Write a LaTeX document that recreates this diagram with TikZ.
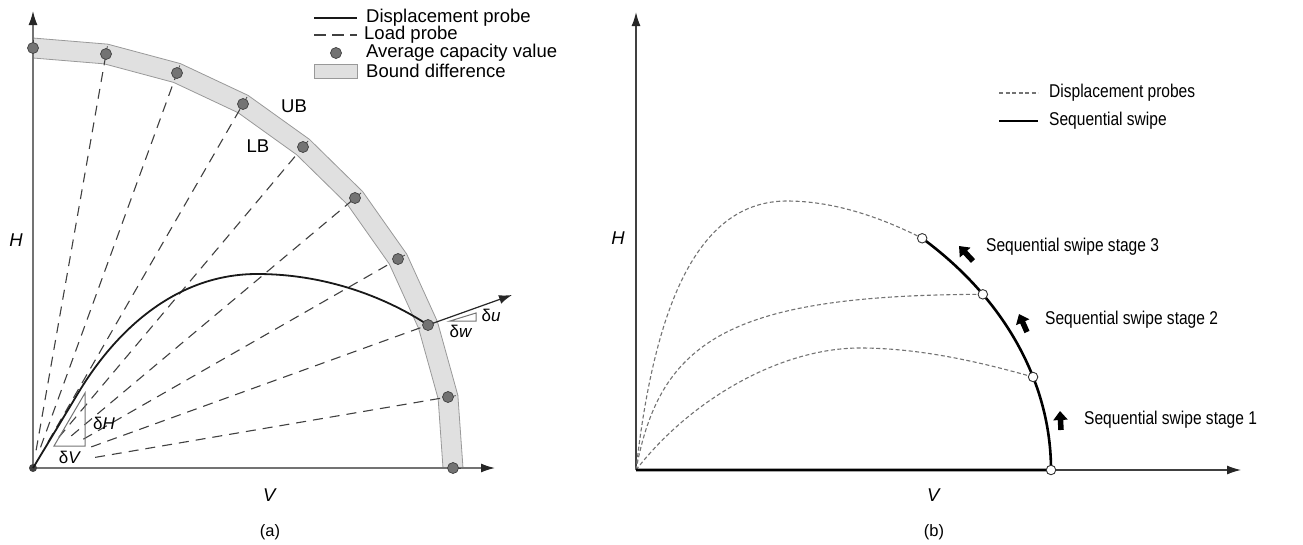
\documentclass[tikz,border=0pt]{standalone}
\usepackage{fontspec}
\setmainfont{Liberation Sans}
\newfontfamily\narrowfont[FakeStretch=0.84]{Liberation Sans}
\usepackage{xcolor}
\usepackage{tikz}
\usetikzlibrary{positioning,arrows.meta,calc}

\begin{document}
\begin{tikzpicture}[
    x=1pt, y=-1pt,
    lbl/.style={font=\fontsize{18.5}{20}\selectfont, inner sep=0pt},
    nlbl/.style={font=\narrowfont\fontsize{18.5}{20}\selectfont, inner sep=0pt},
    dlbl/.style={font=\fontsize{17}{18}\selectfont, inner sep=0pt},
    captxt/.style={font=\fontsize{16.5}{18}\selectfont, inner sep=0pt},
    axis/.style={draw=black!55, line width=1.4pt, -{Latex[length=14pt,width=9pt,color=black!85]}},
    axisb/.style={draw=black!75, line width=1.5pt, -{Latex[length=14pt,width=9pt,color=black!85]}},
    band/.style={fill=black!12, draw=black!40, line width=0.8pt},
    probe/.style={draw=black!75, line width=1.1pt, dash pattern=on 10pt off 7pt},
    disp/.style={draw=black!90, line width=1.8pt},
    capdot/.style={circle, fill=black!55, draw=black!75, line width=0.7pt, minimum size=11pt, inner sep=0pt},
    tri/.style={draw=black!55, line width=1pt},
    darrow/.style={draw=black!85, line width=1.2pt, -{Latex[length=13pt,width=9pt]}},
    dprobe/.style={draw=black!55, line width=1.1pt, dash pattern=on 4pt off 2.5pt},
    swipe/.style={draw=black, line width=2.6pt},
    hollow/.style={circle, draw=black!80, fill=white, line width=0.9pt, minimum size=9.5pt, inner sep=0pt},
    stage/.style={draw=black, line width=5.5pt, -{Triangle[length=9pt,width=14pt]}}
]
\useasboundingbox (0,0) rectangle (1303,544);

\coordinate (Oa) at (33,468);
\coordinate (Ya) at (33,11);
\coordinate (Xa) at (495,468);
\foreach \n/\px/\py in {0/33/48, 1/106/54, 2/177/73, 3/243/104, 4/303/147, 5/355/198, 6/398/259, 7/428/325, 8/448/397, 9/453/468}
    \coordinate (p\n) at (\px,\py);
\foreach \n in {0,...,9}{
    \coordinate (u\n) at ($(p\n)!-10pt!(Oa)$);
    \coordinate (l\n) at ($(p\n)!10pt!(Oa)$);
}
\filldraw[band] (u0) \foreach \n in {1,...,9}{ -- (u\n)} \foreach \n in {9,...,0}{ -- (l\n)} -- cycle;

\draw[axis] (Oa) -- (Ya);
\draw[axis] (Oa) -- (Xa);
\fill[black!75] (Oa) circle (4pt);

\foreach \n/\g in {1/18,2/22,3/30,4/40,5/50,6/58,7/62,8/63}
    \draw[probe, shorten <=\g pt] (Oa) -- (p\n);

\coordinate (k1) at (80,390);
\coordinate (k2) at (257,274);
\draw[disp] (Oa) -- (k1) .. controls (120,325) and (180,274) .. (k2) .. controls (330,274) and (390,300) .. (p7);

\draw[tri] (54,446) -- (85,446) -- (85,393) -- cycle;
\node[dlbl] (dH) at (104,423) {δ\textit{H}};
\node[dlbl] (dV) at (70,457) {δ\textit{V}};

\coordinate (du) at (512,295);
\draw[darrow] (p7) -- (du);
\draw[tri] (450,321) -- (476,321) -- (476,313) -- cycle;
\node[dlbl] (dU) at (491,315) {δ\textit{u}};
\node[dlbl] (dW) at (461,331) {δ\textit{w}};

\foreach \n in {0,...,9}{
    \draw[black!75, line width=0.7pt] (p\n) -- ($(p\n)!0.8!(u\n)$);
    \node[capdot] (c\n) at (p\n) {};
}

\node[lbl] (ub) at (294,106) {UB};
\node[lbl] (lb) at (258,146) {LB};
\node[lbl] (Ha) at (16,240) {\textit{H}};
\node[lbl] (Va) at (270,495) {\textit{V}};
\node[captxt] (capa) at (270,532) {(a)};

\coordinate (la1) at (314,18);
\coordinate (la2) at (357,18);
\draw[disp] (la1) -- (la2);
\node[lbl, right=9pt of la2] (ta1) {Displacement probe};
\coordinate (lc1) at (314,35);
\coordinate (lc2) at (357,35);
\draw[probe, dash pattern=on 12pt off 6pt] (lc1) -- (lc2);
\node[lbl, right=7pt of lc2] (ta2) {Load probe};
\node[capdot] (ld) at (336,53) {};
\node[lbl, anchor=west] (ta3) at (366,53) {Average capacity value};
\filldraw[band] (314,64) rectangle (357,78);
\node[lbl, anchor=west] (ta4) at (366,71) {Bound difference};

\coordinate (Ob) at (636,470);
\coordinate (Yb) at (636,12);
\coordinate (Xb) at (1241,470);
\coordinate (s0) at (1051,470);
\coordinate (s1) at ($(Ob)+(16.9:415pt and 320pt)$);
\coordinate (s2) at ($(Ob)+(33.3:415pt and 320pt)$);
\coordinate (s3) at ($(Ob)+(46.4:415pt and 320pt)$);
\coordinate (m1) at (860,348);
\coordinate (m3) at (787,201);

\draw[axisb] (Ob) -- (Yb);
\draw[axisb, line width=1.2pt] (Ob) -- (Xb);

\draw[dprobe] (Ob) .. controls (690,400) and (780,348) .. (m1) .. controls (920,348) and (980,362) .. (s1);
\draw[dprobe] (Ob) .. controls (660,340) and (730,295) .. (s2);
\draw[dprobe] (Ob) .. controls (655,300) and (700,201) .. (m3) .. controls (840,201) and (890,222) .. (s3);

\draw[swipe] (Ob) -- (s0) arc[start angle=0, end angle=46.4, x radius=415pt, y radius=320pt];
\foreach \n in {0,...,3}
    \node[hollow] (h\n) at (s\n) {};

\draw[stage] (973,261) -- (959,246);
\draw[stage] (1027,332) -- (1019,314);
\draw[stage] (1061,430) -- (1060,411);
\node[nlbl, anchor=west] (st3) at (986,247) {Sequential swipe stage 3};
\node[nlbl, anchor=west] (st2) at (1045,320) {Sequential swipe stage 2};
\node[nlbl, anchor=west] (st1) at (1084,420) {Sequential swipe stage 1};

\coordinate (lb1) at (999,93);
\coordinate (lb2) at (1038,93);
\draw[dprobe] (lb1) -- (lb2);
\node[nlbl, right=11pt of lb2] (tb1) {Displacement probes};
\coordinate (lb3) at (999,121);
\coordinate (lb4) at (1038,121);
\draw[swipe] (lb3) -- (lb4);
\node[nlbl, right=11pt of lb4] (tb2) {Sequential swipe};

\node[lbl] (Hb) at (618,238) {\textit{H}};
\node[lbl] (Vb) at (934,495) {\textit{V}};
\node[captxt] (capb) at (934,532) {(b)};
\end{tikzpicture}
\end{document}
